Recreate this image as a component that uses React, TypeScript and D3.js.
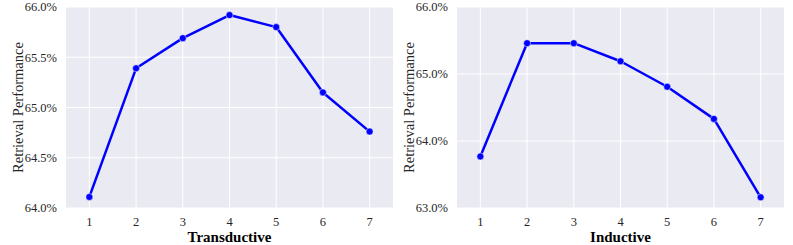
import React from "react";
import * as d3 from "d3";

const steps = [1, 2, 3, 4, 5, 6, 7];
const transductive = [64.11, 65.39, 65.69, 65.92, 65.8, 65.15, 64.76];
const inductive = [63.77, 65.46, 65.46, 65.19, 64.81, 64.33, 63.16];
const transTicks = [64.0, 64.5, 65.0, 65.5, 66.0];
const indTicks = [63.0, 64.0, 65.0, 66.0];

const FONT = "'Liberation Serif', 'Times New Roman', serif";

function Panel({ left, values, yDomain, yTicks, title }: { left: number; values: number[]; yDomain: [number, number]; yTicks: number[]; title: string }) {
  const width = 327;
  const top = 7;
  const bottom = 208;
  const x = d3.scaleLinear().domain([0.5, 7.5]).range([left, left + width]);
  const y = d3.scaleLinear().domain(yDomain).range([bottom, top]);
  const line = d3
    .line<number>()
    .x((_, i) => x(steps[i]))
    .y((d) => y(d));
  return (
    <g>
      <rect x={left} y={top} width={width} height={bottom - top} fill="#eaeaf2" />
      {steps.map((s) => (
        <line key={"gx" + s} x1={x(s)} x2={x(s)} y1={top} y2={bottom} stroke="#fff" strokeWidth={1} />
      ))}
      {yTicks.map((t) => (
        <line key={"gy" + t} x1={left} x2={left + width} y1={y(t)} y2={y(t)} stroke="#fff" strokeWidth={1} />
      ))}
      {yTicks.map((t) => (
        <text key={"ty" + t} x={left - 9} y={y(t)} dy="0.35em" textAnchor="end" fontSize={12.5} fill="#262626" fontFamily={FONT}>
          {t.toFixed(1) + "%"}
        </text>
      ))}
      {steps.map((s) => (
        <text key={"tx" + s} x={x(s)} y={226} textAnchor="middle" fontSize={12.5} fill="#262626" fontFamily={FONT}>
          {s}
        </text>
      ))}
      <text
        transform={`translate(${left - 48},${(top + bottom) / 2}) rotate(-90)`}
        textAnchor="middle"
        dy="0.35em"
        fontSize={14.5}
        fill="#262626"
        fontFamily={FONT}
      >
        Retrieval Performance
      </text>
      <text x={left + width / 2} y={242} textAnchor="middle" fontSize={15} fontWeight="bold" fill="#000" fontFamily={FONT}>
        {title}
      </text>
      <path d={line(values) || ""} fill="none" stroke="#0000ff" strokeWidth={2.5} strokeLinejoin="round" />
      {values.map((v, i) => (
        <circle key={"m" + i} cx={x(steps[i])} cy={y(v)} r={3.5} fill="#0000ff" stroke="#fff" strokeWidth={0.5} />
      ))}
    </g>
  );
}

export default function App() {
  return (
    <svg width={793} height={245} style={{ position: "absolute", left: 0, top: 0 }}>
      <rect width={793} height={245} fill="#fff" />
      <Panel left={66} values={transductive} yDomain={[64, 66]} yTicks={transTicks} title="Transductive" />
      <Panel left={457} values={inductive} yDomain={[63, 66]} yTicks={indTicks} title="Inductive" />
    </svg>
  );
}
